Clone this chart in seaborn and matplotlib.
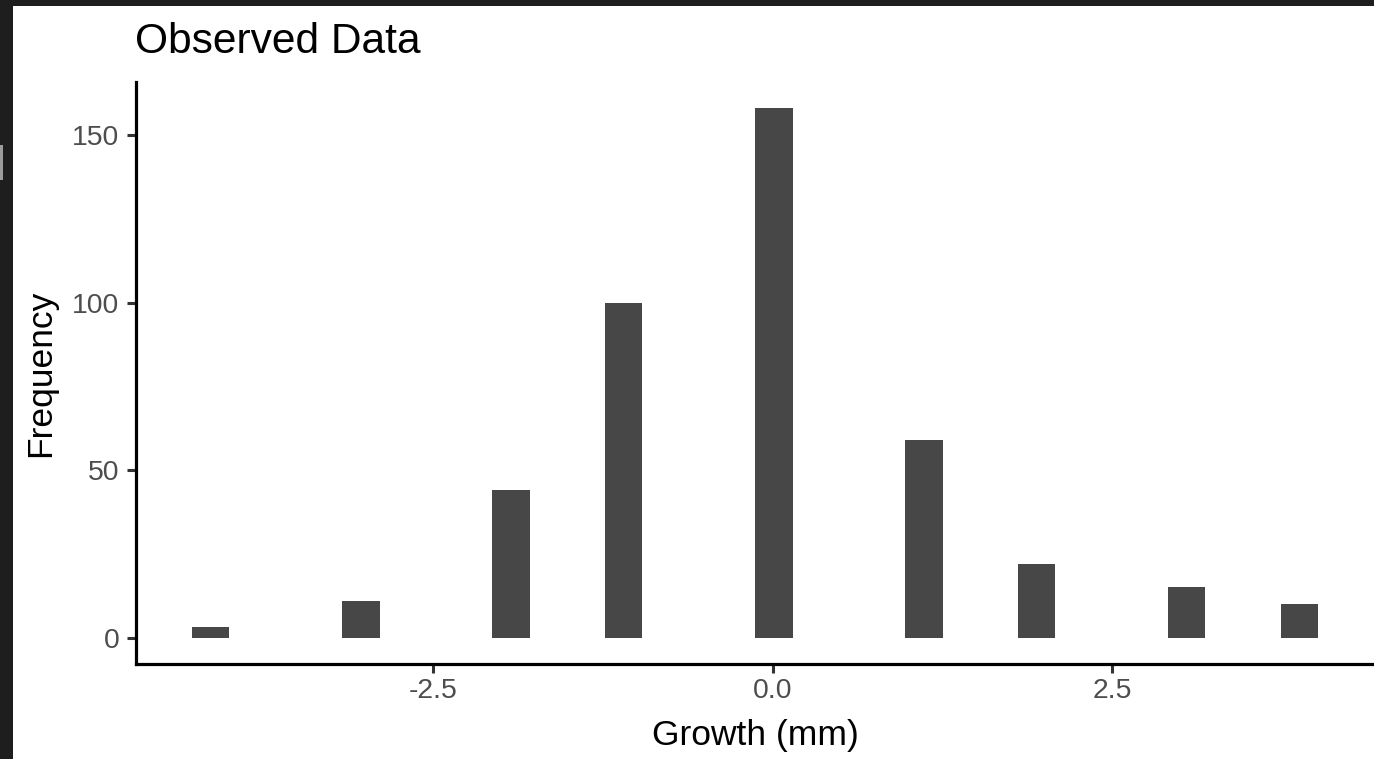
import matplotlib
matplotlib.use("Agg")
import matplotlib.pyplot as plt
from matplotlib.patches import Rectangle
import seaborn as sns
import pandas as pd

# ---- data ----
growth_mm = [-4.14, -3.03, -1.93, -1.10, 0.0, 1.11, 1.94, 3.05, 3.88]
frequency = [3, 11, 44, 100, 158, 59, 22, 15, 10]
x_ticks = [-2.5, 0.0, 2.5]
x_tick_labels = ["-2.5", "0.0", "2.5"]
y_ticks = [0, 50, 100, 150]
y_tick_labels = ["0", "50", "100", "150"]
title = "Observed Data"
x_label = "Growth (mm)"
y_label = "Frequency"

df = pd.DataFrame({"growth": growth_mm, "freq": frequency})

sns.set_style("ticks")
plt.rcParams["font.family"] = ["Liberation Sans", "DejaVu Sans"]
plt.rcParams["axes.unicode_minus"] = False

W, H = 1374, 759
fig = plt.figure(figsize=(W / 100, H / 100), dpi=100, facecolor="#1e1e1e")

# white canvas inside the dark frame
fig.patches.append(Rectangle((13 / W, 0), 1 - 13 / W, 1 - 6 / H,
                             transform=fig.transFigure, facecolor="white",
                             edgecolor="none", zorder=-2))
# small grey artefact on the left frame edge
fig.patches.append(Rectangle((0, 1 - 180 / H), 3 / W, 35 / H,
                             transform=fig.transFigure, facecolor="#9c9c9c",
                             edgecolor="none", zorder=-1))

ax = fig.add_axes([136 / W, (H - 664) / H, (W - 136) / W, (664 - 82) / H])
ax.set_facecolor("white")

sns.histplot(data=df, x="growth", weights="freq", bins=30,
             binrange=(-4.278, 4.018), color="#474747", alpha=1,
             linewidth=0, edgecolor="none", ax=ax)

ax.set_xlim(-4.69, 4.43)
ax.set_ylim(-7.9, 165.9)
ax.set_xticks(x_ticks)
ax.set_xticklabels(x_tick_labels)
ax.set_yticks(y_ticks)
ax.set_yticklabels(y_tick_labels)

for s in ["top", "right"]:
    ax.spines[s].set_visible(False)
for s in ["left", "bottom"]:
    ax.spines[s].set_color("black")
    ax.spines[s].set_linewidth(2.3)

ax.tick_params(axis="both", length=6.4, width=2.2, color="#333333",
               labelcolor="#4d4d4d", labelsize=20.4)
ax.tick_params(axis="x", pad=3.5)
ax.tick_params(axis="y", pad=5.5)

ax.set_xlabel(x_label, fontsize=25.5, color="black")
ax.set_ylabel(y_label, fontsize=25.5, color="black")
ax.xaxis.set_label_coords(0.5, -0.094)
ax.yaxis.set_label_coords(-0.0635, 0.5)

fig.text(135 / W, 1 - 53 / H, title, fontsize=30.6, color="black",
         ha="left", va="baseline")

fig.savefig("out.png", dpi=100, facecolor=fig.get_facecolor())
